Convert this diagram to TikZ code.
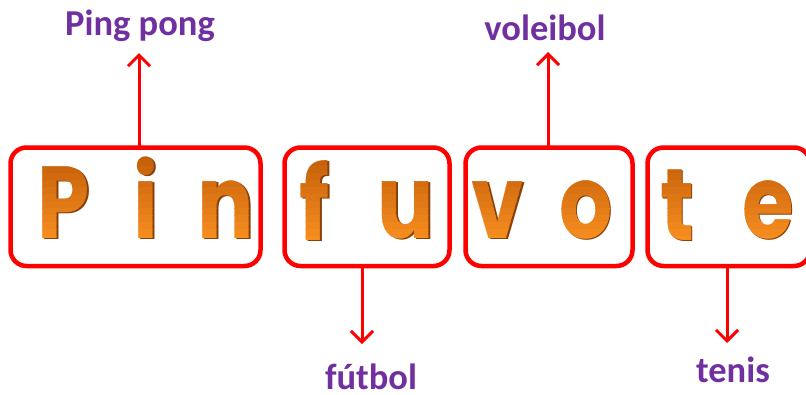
\documentclass[tikz,border=0pt]{standalone}
\usepackage{fontspec}
\setmainfont{Carlito}
\newfontfamily\letfont{Poppins}
\usetikzlibrary{arrows.meta}
\definecolor{boxred}{RGB}{255,0,0}
\definecolor{labpurple}{RGB}{112,48,160}
\definecolor{lettop}{RGB}{196,94,8}
\definecolor{letbot}{RGB}{250,146,34}
\definecolor{letshadowc}{RGB}{135,64,10}
\tikzset{
  wordbox/.style={draw=boxred, line width=4.5pt, rounded corners=16pt, inner sep=0pt},
  arr/.style={draw=boxred, line width=3pt, -{Straight Barb[length=11pt,width=22pt,line width=3pt]}},
  lab/.style={font=\bfseries\fontsize{36.5}{40}\selectfont, text=labpurple, anchor=base, inner sep=0pt},
  letbase/.style={font=\letfont\bfseries\fontsize{102}{102}\selectfont, inner sep=0pt, anchor=base},
  let/.style={letbase, text opacity=0},
  letsh/.style={letbase, text=letshadowc}
}
\newcommand\gradlet[3]{% letter, x, y(baseline)
  \node[letsh] at (#2+1.4,#3+1.8) {\scalebox{0.82}[1]{#1}};
  \foreach \k in {0,...,13}{
    \pgfmathsetmacro\pc{100*\k/13}
    \begin{scope}
      \clip (#2-60,152+7*\k) rectangle (#2+60,159.6+7*\k);
      \node[letbase, text=letbot!\pc!lettop] at (#2,#3) {\scalebox{0.82}[1]{#1}};
    \end{scope}}
  \node[let] (l#1) at (#2,#3) {\scalebox{0.82}[1]{#1}};}
\begin{document}
\begin{tikzpicture}[x=1pt,y=-1pt]
\useasboundingbox (0,0) rectangle (806,394);
% boxes
\draw[wordbox] (10.5,147.5) rectangle (260.5,266);
\node[inner sep=0pt] (b1) at (135.5,206.75) [minimum width=250pt, minimum height=118.5pt] {};
\draw[wordbox] (284.5,147.5) rectangle (449.5,266);
\node[inner sep=0pt] (b2) at (367,206.75) [minimum width=165pt, minimum height=118.5pt] {};
\draw[wordbox] (465.5,147.5) rectangle (632.5,266);
\node[inner sep=0pt] (b3) at (549,206.75) [minimum width=167pt, minimum height=118.5pt] {};
\draw[wordbox] (647.5,147.5) rectangle (810,266);
\node[inner sep=0pt] (b4) at (728.75,206.75) [minimum width=162.5pt, minimum height=118.5pt] {};
% letters
\gradlet{P}{64}{238}
\gradlet{i}{146}{238}
\gradlet{n}{226}{238}
\gradlet{f}{315}{240}
\gradlet{u}{406}{238}
\gradlet{v}{498}{238}
\gradlet{o}{586}{238}
\gradlet{t}{677}{240}
\gradlet{e}{768}{238}
% labels
\node[lab] (pp) at (140,35) {Ping pong};
\node[lab] (vb) at (545,40) {voleibol};
\node[lab] (fb) at (371,389) {fútbol};
\node[lab] (tn) at (733,382) {tenis};
% arrow tips
\coordinate (tpp) at (139,53);
\coordinate (tvb) at (548,52);
\coordinate (tfb) at (362,344);
\coordinate (ttn) at (727,343);
\draw[arr] (b1.north -| tpp) -- (tpp);
\draw[arr] (b3.north -| tvb) -- (tvb);
\draw[arr] (b2.south -| tfb) -- (tfb);
\draw[arr] (b4.south -| ttn) -- (ttn);
\end{tikzpicture}
\end{document}
